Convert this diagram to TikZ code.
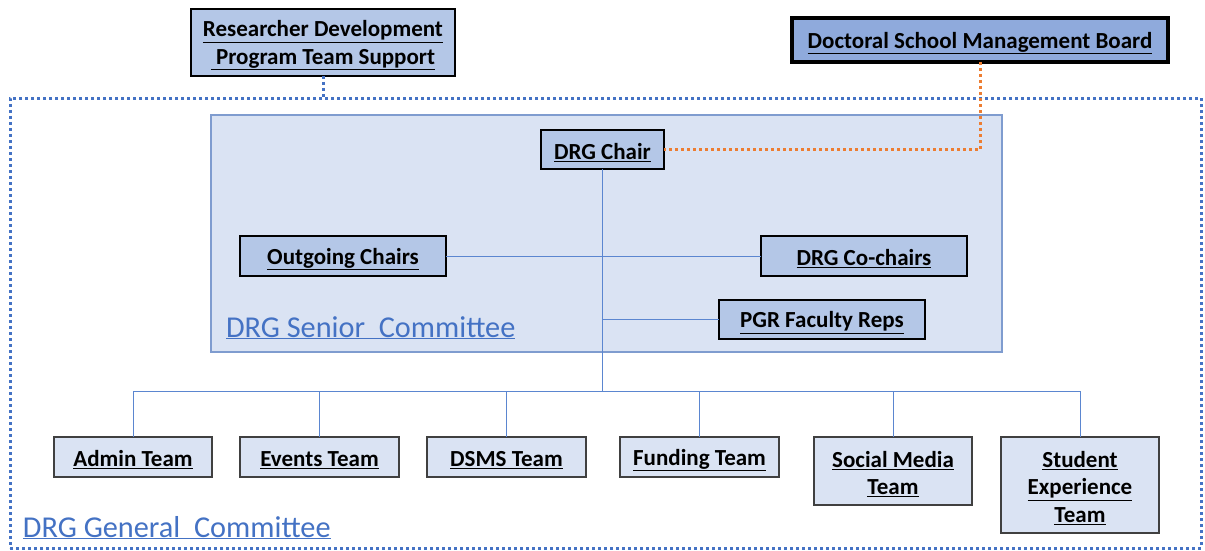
\documentclass[tikz,border=0pt]{standalone}
\usepackage{fontspec}
\setmainfont{Carlito}
\definecolor{bluefill}{HTML}{B4C7E7}
\definecolor{bluedark}{HTML}{8FAADC}
\definecolor{palefill}{HTML}{DAE3F3}
\definecolor{accent}{HTML}{4472C4}
\definecolor{orangeln}{HTML}{ED7D31}
\definecolor{seniorborder}{HTML}{7F9CCF}
\definecolor{linkblue}{HTML}{5B86D0}
\tikzset{
  x=1pt, y=-1pt,
  every node/.style={inner sep=0pt, outer sep=0pt, align=center},
  upperbox/.style={draw=black, fill=bluefill, line width=2.5pt,
     font=\bfseries\fontsize{23}{27.5}\selectfont},
  lowerbox/.style={draw=black!75, fill=palefill, line width=1.6pt,
     font=\bfseries\fontsize{23}{27.5}\selectfont},
  link/.style={draw=linkblue, line width=1pt},
  committee/.style={text=accent, font=\fontsize{30.3}{34}\selectfont},
}
\newcommand{\ul}[1]{\raisebox{-3pt}[\height][\depth]{\underline{#1}}}
\newcommand{\ulc}[1]{\underline{#1}}
\begin{document}
\begin{tikzpicture}
\useasboundingbox[fill=white] (0,0) rectangle (1205,551);
% frames
\node[draw=accent, line width=3pt, dash pattern=on 3pt off 3pt,
      minimum width=1191pt, minimum height=450pt] (general) at (605.5,323) {};
\node[draw=seniorborder, fill=palefill, line width=1.2pt,
      minimum width=791pt, minimum height=237pt] (senior) at (606.5,233.5) {};
% top boxes
\node[upperbox, minimum width=264pt, minimum height=67pt] (rd) at (323,42.5)
   {\ul{Researcher Development}\\\ul{\ Program Team Support}};
\node[draw=black, fill=bluedark, line width=4pt,
      font=\bfseries\fontsize{23}{27.5}\selectfont,
      minimum width=376pt, minimum height=44pt] (dsmb) at (980,40)
   {\ul{Doctoral School\ Management Board}};
% senior committee boxes
\node[upperbox, minimum width=123pt, minimum height=39pt] (chair) at (602.5,149.5) {\ul{DRG Chair}};
\node[upperbox, minimum width=206pt, minimum height=40pt] (out) at (343,256) {\ul{Outgoing Chairs}};
\node[upperbox, minimum width=206pt, minimum height=40pt] (co) at (864,256) {\ul{DRG Co-chairs}};
\node[upperbox, minimum width=206pt, minimum height=39pt] (pgr) at (822,319.5) {\ul{PGR Faculty Reps}};
% lower boxes
\node[lowerbox, minimum width=158pt, minimum height=40pt] (admin) at (133,457) {\ul{Admin Team}};
\node[lowerbox, minimum width=159pt, minimum height=40pt] (events) at (319.5,457) {\ul{Events Team}};
\node[lowerbox, minimum width=159pt, minimum height=40pt] (dsms) at (506.5,457) {\ul{DSMS Team}};
\node[lowerbox, minimum width=159pt, minimum height=40pt] (fund) at (699.5,457) {\ul{Funding Team}};
\node[lowerbox, minimum width=158pt, minimum height=68pt] (social) at (893,471) {\ul{Social Media}\\\ul{Team}};
\node[lowerbox, minimum width=158pt, minimum height=96pt] (student) at (1080,485) {\ul{Student}\\\ul{Experience}\\\ul{Team}};
% labels
\node[committee, anchor=base west] (lsenior) at (226,337) {\ulc{DRG Senior\ \ Committee}};
\node[committee, anchor=base west] (lgeneral) at (23,537) {\ulc{DRG General\ \ Committee}};
% connectors
\coordinate (bus) at (602.5,391);
\draw[link] (chair.south) -- (bus);
\draw[link] (out.east) -- (co.west);
\draw[link] (chair.south |- pgr.west) -- (pgr.west);
\foreach \b in {admin,events,dsms,fund,social,student}
  \draw[link] (bus) -| (\b.north);
\draw[accent, line width=3pt, dash pattern=on 3pt off 3pt] (rd.south) -- (rd.south |- general.north);
\draw[orangeln, line width=3pt, dash pattern=on 3pt off 3pt] (dsmb.south) |- (chair.east);
\end{tikzpicture}
\end{document}
